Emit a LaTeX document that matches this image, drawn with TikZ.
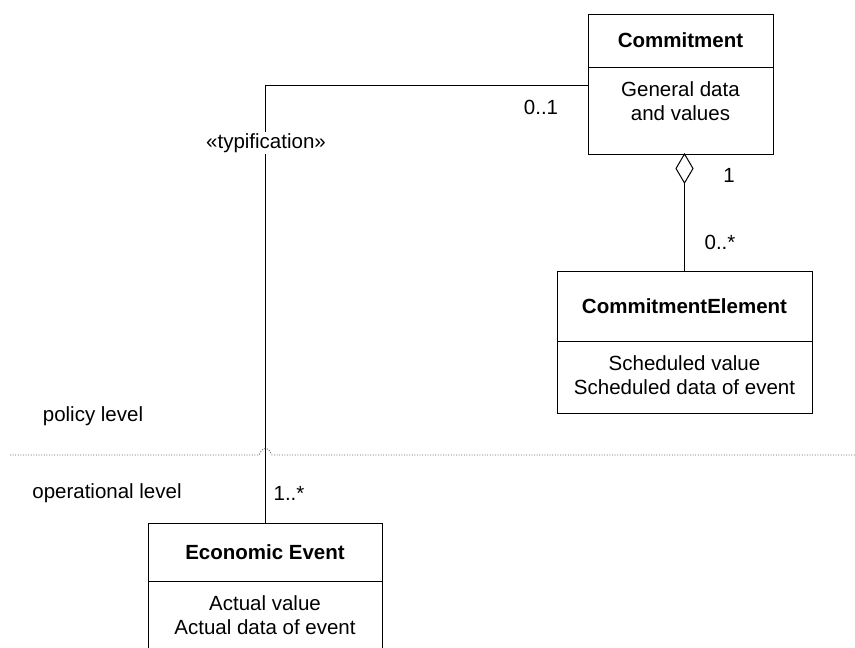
\documentclass[tikz,border=0pt]{standalone}
\usepackage{fontspec}
\setmainfont{Liberation Sans}
\usetikzlibrary{shapes.geometric}
\begin{document}
\begin{tikzpicture}[x=1pt,y=-1pt,
  every node/.style={font=\fontsize{20.5}{24}\selectfont},
  classhead/.style={draw, line width=1pt, outer sep=0pt, inner sep=0pt, anchor=north west, font=\fontsize{20.5}{24}\selectfont\bfseries},
  classbody/.style={draw, line width=1pt, outer sep=0pt, inner sep=0pt, anchor=north west},
  attrs/.style={align=center, inner sep=0pt},
  conn/.style={line width=1pt},
  mult/.style={inner sep=0pt},
  levelline/.style={line width=0.9pt, gray!80!black, dash pattern=on 1pt off 1.6pt}
]
\useasboundingbox (0,0) rectangle (855,648);
\clip (0,0) rectangle (855,648);

% Commitment class
\node[classhead, minimum width=185pt, minimum height=53pt] (commHead) at (588,14) {Commitment};
\node[classbody, minimum width=185pt, minimum height=87pt] (commBody) at (commHead.south west) {};
\node[attrs] (commAttr) at (680.5,101) {General data\\and values};

% CommitmentElement class
\node[classhead, minimum width=255pt, minimum height=70pt] (ceHead) at (557,271) {CommitmentElement};
\node[classbody, minimum width=255pt, minimum height=72pt] (ceBody) at (ceHead.south west) {};
\node[attrs] (ceAttr) at (684.5,375) {Scheduled value\\Scheduled data of event};

% Economic Event class
\node[classhead, minimum width=234pt, minimum height=58pt] (econHead) at (148,523) {Economic Event};
\node[classbody, minimum width=234pt, minimum height=90pt] (econBody) at (econHead.south west) {};
\node[attrs] (econAttr) at (265,615.5) {Actual value\\Actual data of event};

% aggregation Commitment -- CommitmentElement
\node[diamond, draw, line width=1pt, fill=white, inner sep=0pt, outer sep=0pt,
      minimum width=17pt, minimum height=29pt, anchor=north] (agg) at (commBody.south -| ceHead.north) {};
\draw[conn] (agg.south) -- (ceHead.north);
\node[mult] (mOne) at (729,175) {1};
\node[mult] (mMany) at (720,242) {0..*};

% typification Commitment -- Economic Event
\draw[conn] ([yshift=-18pt]commBody.north west) -| (econHead.north);
\node[fill=white, inner sep=1.5pt] (typ) at (266,143) {«typification»};
\node[mult] (mZeroOne) at (541,107) {0..1};
\node[mult] (mOneMany) at (289,493) {1..*};

% boundary between the levels, hopping over the connector
\coordinate (lvlL) at (10,455);
\coordinate (lvlR) at (855,455);
\draw[levelline] (lvlL) -- (259,455) .. controls (262,449) and (264,448) .. (265.5,448.5)
  .. controls (267,448) and (269,449) .. (272,455) -- (lvlR);
\node (policy) at (93,416) {policy level};
\node (oper) at (107,493) {operational level};
\end{tikzpicture}
\end{document}
